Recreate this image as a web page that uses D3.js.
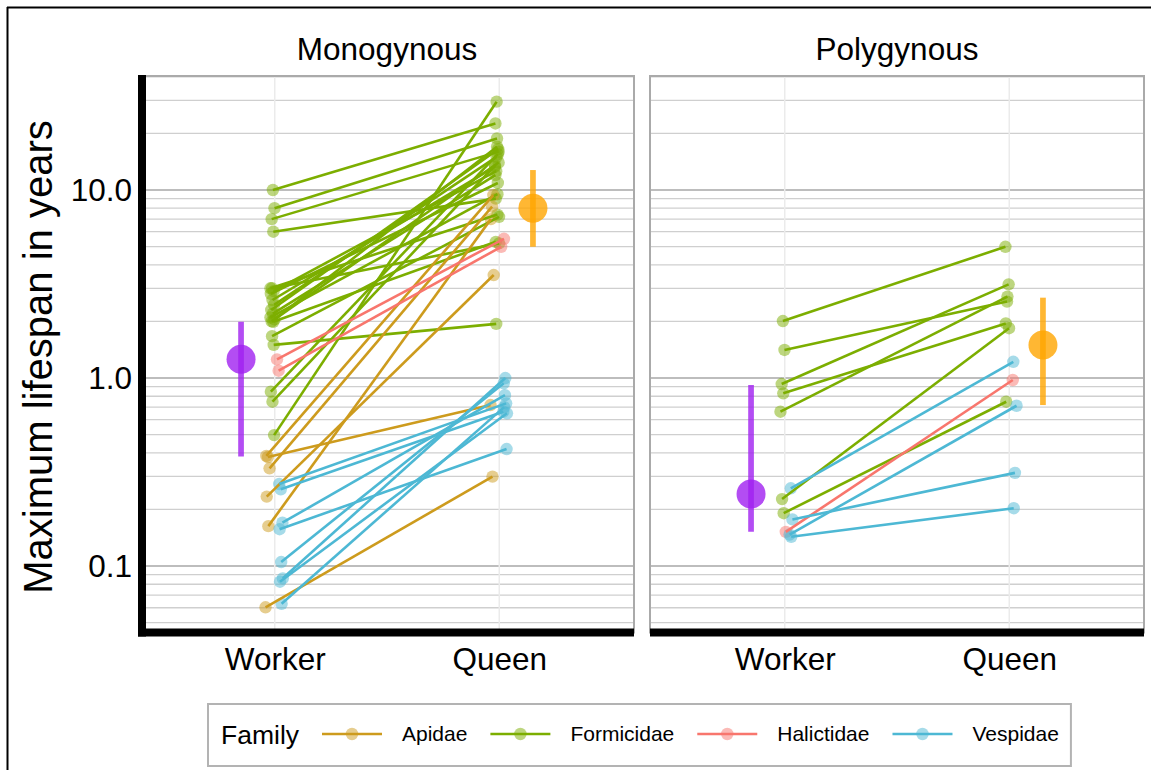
<!DOCTYPE html>
<html>
<head>
<meta charset="utf-8">
<script src="https://cdn.jsdelivr.net/npm/d3@7"></script>
<style>
  body { margin: 0; background: #fff; }
  svg { display: block; font-family: "Liberation Sans", Arial, sans-serif; }
</style>
</head>
<body>
<div id="chart"></div>
<script>
var families = ["Apidae", "Formicidae", "Halictidae", "Vespidae"];
var castes = ["Worker", "Queen"];
var panelNames = ["Monogynous", "Polygynous"];

// monogynous pairs: family, worker lifespan, queen lifespan (years)
var monoFamily = ["Formicidae","Formicidae","Formicidae","Formicidae","Formicidae","Formicidae","Formicidae",
  "Formicidae","Formicidae","Formicidae","Formicidae","Formicidae","Formicidae","Formicidae","Formicidae",
  "Formicidae","Formicidae","Formicidae","Formicidae","Formicidae","Formicidae",
  "Apidae","Apidae","Apidae","Apidae","Apidae","Apidae",
  "Halictidae","Halictidae",
  "Vespidae","Vespidae","Vespidae","Vespidae","Vespidae","Vespidae","Vespidae","Vespidae"];
var monoWorker = [10.0, 8.0, 7.0, 6.0, 3.0, 3.0, 2.9, 2.8, 2.6, 2.45, 2.3, 2.2, 2.05, 2.0, 1.99, 2.1, 1.67, 1.5, 0.846, 0.748, 0.497,
  0.385, 0.38, 0.331, 0.234, 0.163, 0.0603,
  1.257, 1.094,
  0.273, 0.256, 0.170, 0.157, 0.105, 0.086, 0.0825, 0.063];
var monoQueen = [22.6, 18.8, 16.0, 9.0, 7.4, 5.2, 12.6, 10.9, 13.3, 15.0, 16.5, 12.0, 17.0, 14.0, 5.3, 9.5, 7.2, 1.94, 15.5, 13.5, 29.5,
  9.4, 0.718, 8.15, 3.53, 7.0, 0.299,
  5.5, 4.99,
  0.733, 0.662, 0.81, 0.419, 0.937, 1.0, 0.649, 0.70];

// polygynous pairs
var polyFamily = ["Formicidae","Formicidae","Formicidae","Formicidae","Formicidae","Formicidae","Formicidae",
  "Halictidae",
  "Vespidae","Vespidae","Vespidae","Vespidae"];
var polyWorker = [2.01, 1.41, 0.929, 0.829, 0.662, 0.227, 0.191, 0.152, 0.259, 0.177, 0.147, 0.143];
var polyQueen = [4.99, 2.55, 3.15, 1.95, 2.71, 1.84, 0.748, 0.976, 1.22, 0.313, 0.712, 0.203];

// summary point and range per panel / caste
var statPanel = ["Monogynous", "Monogynous", "Polygynous", "Polygynous"];
var statCaste = ["Worker", "Queen", "Worker", "Queen"];
var statMid = [1.26, 8.0, 0.2415, 1.5];
var statLow = [0.382, 4.99, 0.152, 0.718];
var statHigh = [1.99, 12.77, 0.918, 2.675];

var yTicks = [0.1, 1, 10];

var famColor = d3.scaleOrdinal()
  .domain(families)
  .range(["#cd9b1d", "#7cae00", "#f8766d", "#4db8d4"]);
var casteColor = d3.scaleOrdinal().domain(castes).range(["#a020f0", "#ffa500"]);

var width = 1151, height = 770;
var plotTop = 76, plotBottom = 632.5;

var svg = d3.select("#chart").append("svg")
  .attr("width", width)
  .attr("height", height);

// outer frame (top and left edges visible)
svg.append("line").attr("x1", 7).attr("x2", width).attr("y1", 7.5).attr("y2", 7.5)
  .attr("stroke", "#000").attr("stroke-width", 2);
svg.append("line").attr("x1", 7.5).attr("x2", 7.5).attr("y1", 7).attr("y2", height)
  .attr("stroke", "#000").attr("stroke-width", 2);

var yScale = d3.scaleLog()
  .domain([0.0443, 40.4])
  .range([plotBottom, plotTop]);

var minorTicks = [];
[0.01, 0.1, 1, 10].forEach(function(dec) {
  for (var k = 2; k <= 9; k++) {
    var v = dec * k;
    if (v > 0.0443 && v < 40.4) minorTicks.push(v);
  }
});

var panels = [
  {name: panelNames[0], x0: 140, x1: 634, fam: monoFamily, w: monoWorker, q: monoQueen},
  {name: panelNames[1], x0: 650, x1: 1144, fam: polyFamily, w: polyWorker, q: polyQueen}
];

var dodge = {Apidae: -0.032, Formicidae: -0.01, Halictidae: 0.012, Vespidae: 0.027};
function jit(i, k) { return (((i * 37 + k * 17) % 11) - 5) / 5 * 0.009; }

panels.forEach(function(p, pi) {
  var xScale = d3.scalePoint()
    .domain(castes)
    .range([p.x0, p.x1])
    .padding(0.6);
  var step = xScale.step();

  var g = svg.append("g");

  // grid
  g.selectAll(".minor").data(minorTicks).enter().append("line")
    .attr("x1", p.x0).attr("x2", p.x1)
    .attr("y1", function(d) { return yScale(d); })
    .attr("y2", function(d) { return yScale(d); })
    .attr("stroke", "#cfcfcf").attr("stroke-width", 1.3);
  g.selectAll(".major").data(yTicks).enter().append("line")
    .attr("x1", p.x0).attr("x2", p.x1)
    .attr("y1", function(d) { return yScale(d); })
    .attr("y2", function(d) { return yScale(d); })
    .attr("stroke", "#bdbdbd").attr("stroke-width", 2);
  g.selectAll(".vgrid").data(castes).enter().append("line")
    .attr("x1", function(d) { return xScale(d); })
    .attr("x2", function(d) { return xScale(d); })
    .attr("y1", plotTop).attr("y2", plotBottom)
    .attr("stroke", "#ebebeb").attr("stroke-width", 1.5);

  // panel border
  g.append("rect")
    .attr("x", p.x0).attr("y", plotTop)
    .attr("width", p.x1 - p.x0).attr("height", plotBottom - plotTop)
    .attr("fill", "none").attr("stroke", "#aaaaaa").attr("stroke-width", 2);

  var pairs = p.w.map(function(wv, i) {
    return {
      fam: p.fam[i],
      xw: xScale("Worker") + (dodge[p.fam[i]] + jit(i, 1)) * step,
      xq: xScale("Queen") + (dodge[p.fam[i]] + jit(i, 2)) * step,
      w: wv, q: p.q[i]
    };
  });

  var pts = [];
  pairs.forEach(function(d) {
    pts.push({fam: d.fam, x: d.xw, v: d.w});
    pts.push({fam: d.fam, x: d.xq, v: d.q});
  });

  g.selectAll(".pt").data(pts).enter().append("circle")
    .attr("cx", function(d) { return d.x; })
    .attr("cy", function(d) { return yScale(d.v); })
    .attr("r", 6.2)
    .attr("fill", function(d) { return famColor(d.fam); })
    .attr("fill-opacity", 0.5);

  g.selectAll(".pair").data(pairs).enter().append("line")
    .attr("x1", function(d) { return d.xw; })
    .attr("x2", function(d) { return d.xq; })
    .attr("y1", function(d) { return yScale(d.w); })
    .attr("y2", function(d) { return yScale(d.q); })
    .attr("stroke", function(d) { return famColor(d.fam); })
    .attr("stroke-width", 2.6);

  // summary
  var stats = [];
  statPanel.forEach(function(sp, i) {
    if (sp === p.name) stats.push({caste: statCaste[i], mid: statMid[i], lo: statLow[i], hi: statHigh[i]});
  });
  stats.forEach(function(s) {
    var sx = xScale(s.caste) + (s.caste === "Worker" ? -0.15 : 0.15) * step;
    g.append("line")
      .attr("x1", sx).attr("x2", sx)
      .attr("y1", yScale(s.lo)).attr("y2", yScale(s.hi))
      .attr("stroke", casteColor(s.caste)).attr("stroke-opacity", 0.8)
      .attr("stroke-width", 5.7);
    g.append("circle")
      .attr("cx", sx).attr("cy", yScale(s.mid)).attr("r", 14.5)
      .attr("fill", casteColor(s.caste)).attr("fill-opacity", 0.8);
  });

  // strip label
  svg.append("text")
    .attr("x", (p.x0 + p.x1) / 2).attr("y", 60)
    .attr("text-anchor", "middle")
    .style("font-size", "31.5px")
    .text(p.name);

  // x axis
  var xAxis = svg.append("g")
    .attr("transform", "translate(0," + plotBottom + ")")
    .call(d3.axisBottom(xScale).tickSize(0).tickPadding(15));
  xAxis.select(".domain").remove();
  xAxis.selectAll("text").style("font-size", "31.5px").attr("fill", "#000")
    .style("font-family", "Liberation Sans, Arial, sans-serif");

  svg.append("line")
    .attr("x1", pi === 0 ? 138 : p.x0).attr("x2", p.x1)
    .attr("y1", plotBottom).attr("y2", plotBottom)
    .attr("stroke", "#000").attr("stroke-width", 8);
});

// y axis on first panel
var yAxis = svg.append("g")
  .attr("transform", "translate(140,0)")
  .call(d3.axisLeft(yScale).tickValues(yTicks).tickFormat(d3.format(".1f")).tickSize(0).tickPadding(8));
yAxis.select(".domain").remove();
yAxis.selectAll("text").style("font-size", "31.5px").attr("fill", "#000")
  .style("font-family", "Liberation Sans, Arial, sans-serif");
svg.append("line")
  .attr("x1", 142).attr("x2", 142)
  .attr("y1", plotTop - 1).attr("y2", plotBottom + 4)
  .attr("stroke", "#000").attr("stroke-width", 8);

svg.append("text")
  .attr("transform", "translate(52,357) rotate(-90)")
  .attr("text-anchor", "middle")
  .style("font-size", "40px")
  .text("Maximum lifespan in years");

// legend
var legend = svg.append("g");
var legBox = legend.append("rect")
  .attr("x", 208).attr("y", 704).attr("width", 866).attr("height", 62)
  .attr("fill", "#fff").attr("stroke", "#b3b3b3").attr("stroke-width", 2);
legend.append("text")
  .attr("x", 221).attr("y", 735).attr("dy", "0.35em")
  .style("font-size", "26.5px")
  .text("Family");

var lx = 322;
families.forEach(function(f) {
  legend.append("line")
    .attr("x1", lx).attr("x2", lx + 60).attr("y1", 734).attr("y2", 734)
    .attr("stroke", famColor(f)).attr("stroke-width", 2.6);
  legend.append("circle")
    .attr("cx", lx + 30).attr("cy", 734).attr("r", 6.2)
    .attr("fill", famColor(f)).attr("fill-opacity", 0.5);
  var t = legend.append("text")
    .attr("x", lx + 80).attr("y", 734).attr("dy", "0.35em")
    .style("font-size", "21px")
    .text(f);
  lx = lx + 80 + t.node().getComputedTextLength() + 23;
});
legBox.attr("width", lx - 23 + 12 - 208);
</script>
</body>
</html>
